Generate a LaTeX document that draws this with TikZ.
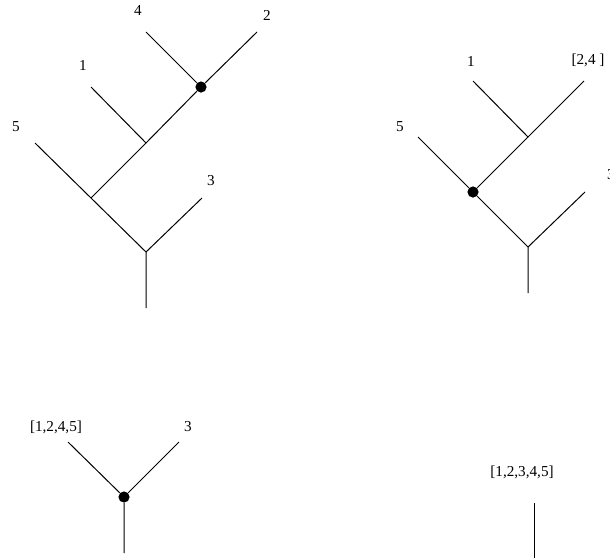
\documentclass[tikz,border=0pt]{standalone}
\usepackage{fontspec}
\setmainfont{Liberation Serif}
\usepackage{tikz}

\begin{document}
\begin{tikzpicture}[x=0.5pt,y=-0.5pt,line width=0.5pt,
    lbl/.style={font=\fontsize{7.6}{9}\selectfont,inner sep=0pt,anchor=center},
    dot/.style={circle,fill=black,inner sep=0pt,minimum size=5.6pt}]
  \useasboundingbox (0,0) rectangle (610,558);

  % tree 1
  \coordinate (r1) at (146,308);
  \coordinate (f1) at (146,252);
  \coordinate (a1) at (91,198);
  \coordinate (b1) at (146,143);
  \node[dot] (c1) at (201,87) {};
  \coordinate (k3) at (202,198);
  \coordinate (k5) at (35,143);
  \coordinate (k1) at (91,87);
  \coordinate (k4) at (146,32);
  \coordinate (k2) at (257,32);
  \draw (r1) -- (f1) -- (a1) -- (k5);
  \draw (f1) -- (k3);
  \draw (a1) -- (b1) -- (k1);
  \draw (b1) -- (c1) -- (k2);
  \draw (c1) -- (k4);
  \node[lbl] (t4) at (138,10) {4};
  \node[lbl] (t2) at (267,15) {2};
  \node[lbl] (t1) at (83,65) {1};
  \node[lbl] (t5) at (16,127) {5};
  \node[lbl] (t3) at (211,181) {3};

  % tree 2
  \coordinate (r2) at (528,293);
  \coordinate (f2) at (528,247);
  \node[dot] (d2) at (473,192) {};
  \coordinate (b2) at (528,137);
  \coordinate (m3) at (585,192);
  \coordinate (m5) at (418,137);
  \coordinate (m1) at (473,81);
  \coordinate (m24) at (584,81);
  \draw (r2) -- (f2) -- (d2) -- (m5);
  \draw (f2) -- (m3);
  \draw (d2) -- (b2) -- (m1);
  \draw (b2) -- (m24);
  \node[lbl] (u1) at (471,61) {1};
  \node[lbl] (u24) at (588,60) {[2,4 ]};
  \node[lbl] (u5) at (400,127) {5};
  \node[lbl] (u3) at (611,175) {3};

  % tree 3
  \coordinate (r3) at (124,553);
  \node[dot] (e3) at (124,497) {};
  \coordinate (n1) at (68,442);
  \coordinate (n3) at (179,442);
  \draw (r3) -- (e3) -- (n1);
  \draw (e3) -- (n3);
  \node[lbl] (v1) at (56,427) {[1,2,4,5]};
  \node[lbl] (v3) at (188,427) {3};

  % tree 4
  \coordinate (r4) at (534,558);
  \coordinate (p4) at (534,503);
  \draw (r4) -- (p4);
  \node[lbl] (w1) at (522,472) {[1,2,3,4,5]};
\end{tikzpicture}
\end{document}
